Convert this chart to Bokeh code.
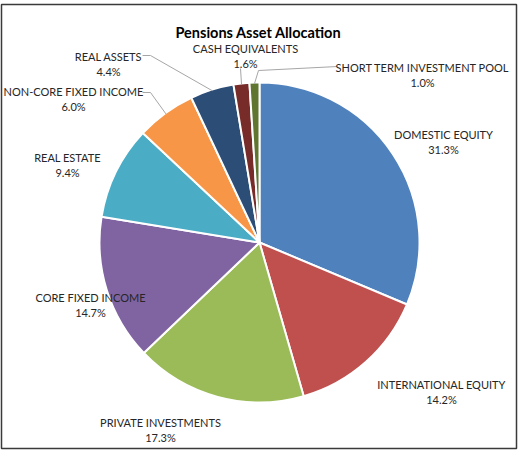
import math
from bokeh.plotting import figure
from bokeh.models import ColumnDataSource, Range1d
from bokeh.core.properties import value
from bokeh.embed import file_html
from bokeh.resources import INLINE

# ---- data ----
categories = ["DOMESTIC EQUITY", "INTERNATIONAL EQUITY", "PRIVATE INVESTMENTS",
              "CORE FIXED INCOME", "REAL ESTATE", "NON-CORE FIXED INCOME",
              "REAL ASSETS", "CASH EQUIVALENTS", "SHORT TERM INVESTMENT POOL"]
values = [31.3, 14.2, 17.3, 14.7, 9.4, 6.0, 4.4, 1.6, 1.0]
colors = ["#4F81BD", "#C0504D", "#9BBB59", "#8064A2", "#4BACC6",
          "#F79646", "#2C4D75", "#772C2A", "#5F7530"]
title = "Pensions Asset Allocation"

# ---- layout (reference pixel coords: x right, y down) ----
W, H = 518, 450
FL, FT, FR, FB = 1, 4, 516, 448   # frame box
FONT = "Lato"
CX, CY, R = 259, 242, 160
label_pos = {  # center x, first-line baseline y
    "DOMESTIC EQUITY": (443, 134),
    "INTERNATIONAL EQUITY": (441, 384),
    "PRIVATE INVESTMENTS": (160, 422),
    "CORE FIXED INCOME": (90, 297),
    "REAL ESTATE": (67, 157),
    "NON-CORE FIXED INCOME": (73, 91),
    "REAL ASSETS": (108, 56),
    "CASH EQUIVALENTS": (245, 48),
    "SHORT TERM INVESTMENT POOL": (422, 67),
}
leader_start = {  # label-side points of leader lines
    "NON-CORE FIXED INCOME": [(142, 92), (150, 92)],
    "REAL ASSETS": [(142, 55), (150, 55)],
    "CASH EQUIVALENTS": [(240, 68)],
    "SHORT TERM INVESTMENT POOL": [(337, 66), (258, 70)],
}


def fy(y):
    return 450 - y


total = sum(values)
starts, ends, mids = [], [], []
acc = 0.0
for v in values:
    a0 = acc / total
    acc += v
    a1 = acc / total
    starts.append(math.pi / 2 - 2 * math.pi * a0)
    ends.append(math.pi / 2 - 2 * math.pi * a1)
    mids.append((a0 + a1) / 2)

p = figure(width=W, height=H, output_backend="svg", toolbar_location=None,
           x_range=Range1d(FL, FR), y_range=Range1d(fy(FB), fy(FT)),
           min_border_left=FL, min_border_right=W - FR,
           min_border_top=FT, min_border_bottom=H - FB,
           outline_line_color="#3a3a3a", outline_line_width=1.5)
p.axis.visible = False
p.grid.visible = False
p.background_fill_color = "white"
p.border_fill_color = "white"

wsrc = ColumnDataSource(dict(start=starts, end=ends, color=colors, cat=categories))
p.wedge(x=CX, y=fy(CY), radius=R, start_angle="start", end_angle="end",
        direction="clock", fill_color="color", line_color="white",
        line_width=2, source=wsrc)

# leader lines
for i, c in enumerate(categories):
    if c in leader_start:
        ang = 2 * math.pi * mids[i]
        ex = CX + (R - 1) * math.sin(ang)
        ey = CY - (R - 1) * math.cos(ang)
        pts = leader_start[c] + [(ex, ey)]
        p.line([q[0] for q in pts], [fy(q[1]) for q in pts],
               line_color="#A6A6A6", line_width=1)

lx = [label_pos[c][0] for c in categories]
ly = [fy(label_pos[c][1]) for c in categories]
ly2 = [fy(label_pos[c][1] + 15) for c in categories]
pct = [f"{v:.1f}%" for v in values]
lsrc = ColumnDataSource(dict(x=lx, y=ly, y2=ly2, name=categories, pct=pct))
p.text(x="x", y="y", text="name", source=lsrc, text_align="center",
       text_baseline="alphabetic", text_font=value(FONT),
       text_font_size="11px", text_color="#262626")
p.text(x="x", y="y2", text="pct", source=lsrc, text_align="center",
       text_baseline="alphabetic", text_font=value(FONT),
       text_font_size="11px", text_color="#262626")

p.text(x=[258], y=[fy(32)], text=[title], text_align="center",
       text_baseline="alphabetic", text_font=value(FONT),
       text_font_size="14.5px", text_font_style="bold", text_color="#000000")

open("out.html", "w").write(file_html(p, INLINE))
